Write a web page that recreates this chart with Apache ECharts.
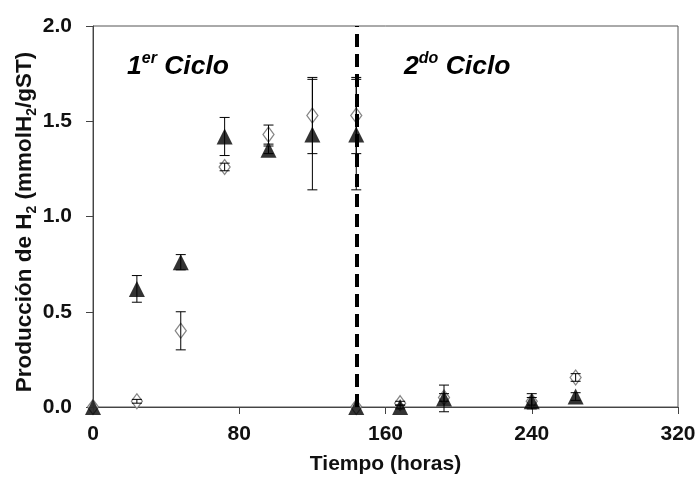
<!DOCTYPE html>
<html><head><meta charset="utf-8">
<script src="https://cdn.jsdelivr.net/npm/echarts@6/dist/echarts.min.js"></script>
<style>html,body{margin:0;padding:0;background:#fff}#c{width:699px;height:480px}</style>
</head><body><div id="c"></div>
<script>
// Data
var timeCycle1 = [0, 24, 48, 72, 96, 120, 144];
var triCycle1 = [0, 0.62, 0.76, 1.42, 1.35, 1.43, 1.43];
var triErr1 = [0, 0.07, 0.04, 0.10, 0.02, 0.29, 0.29];
var diaCycle1 = [0, 0.03, 0.40, 1.26, 1.43, 1.53, 1.53];
var diaErr1 = [0, 0.01, 0.10, 0.02, 0.05, 0.20, 0.20];

var timeCycle2 = [144, 168, 192, 240, 264];
var triCycle2 = [0, 0.00, 0.045, 0.03, 0.055];
var triErr2 = [0, 0.01, 0.07, 0.04, 0.02];
var diaCycle2 = [0, 0.02, 0.05, 0.03, 0.155];
var diaErr2 = [0, 0.01, 0.02, 0.02, 0.02];

var divisionTime = 144;
var xTicks = [0, 80, 160, 240, 320];
var yTicks = [0, 0.5, 1.0, 1.5, 2.0];

function pts(t, v) { return t.map(function (x, i) { return [x, v[i]]; }); }
function errs(t, v, e) { return t.map(function (x, i) { return [x, v[i] - e[i], v[i] + e[i]]; }); }

var triPts = pts(timeCycle1, triCycle1).concat(pts(timeCycle2, triCycle2));
var diaPts = pts(timeCycle1, diaCycle1).concat(pts(timeCycle2, diaCycle2));
var errPts = errs(timeCycle1, diaCycle1, diaErr1).concat(errs(timeCycle2, diaCycle2, diaErr2))
  .concat(errs(timeCycle1, triCycle1, triErr1)).concat(errs(timeCycle2, triCycle2, triErr2))
  .filter(function (d) { return d[2] - d[1] > 0.015; });

var FONT = "'Liberation Sans', Arial, sans-serif";
var chart = echarts.init(document.getElementById('c'));

function renderErr(params, api) {
  var x = api.value(0);
  var lo = api.coord([x, api.value(1)]);
  var hi = api.coord([x, api.value(2)]);
  var w = 5;
  var st = { stroke: '#000', lineWidth: 1 };
  return {
    type: 'group',
    children: [
      { type: 'line', shape: { x1: lo[0], y1: lo[1], x2: hi[0], y2: hi[1] }, style: st },
      { type: 'line', shape: { x1: lo[0] - w, y1: lo[1], x2: lo[0] + w, y2: lo[1] }, style: st },
      { type: 'line', shape: { x1: hi[0] - w, y1: hi[1], x2: hi[0] + w, y2: hi[1] }, style: st }
    ]
  };
}

chart.setOption({
  animation: false,
  grid: { left: 93, right: 21, top: 26, bottom: 73, show: true, borderColor: '#555', borderWidth: 1 },
  xAxis: {
    type: 'value', min: xTicks[0], max: xTicks[xTicks.length - 1], interval: 80,
    name: 'Tiempo (horas)', nameLocation: 'middle', nameGap: 47,
    nameTextStyle: { fontFamily: FONT, fontWeight: 'bold', fontSize: 21, color: '#111' },
    axisLine: { lineStyle: { color: '#444', width: 1 } },
    axisTick: { show: true, inside: false, length: 7, lineStyle: { color: '#444' } },
    axisLabel: { fontFamily: FONT, fontWeight: 'bold', fontSize: 21, color: '#111', margin: 17 },
    splitLine: { show: false }
  },
  yAxis: {
    type: 'value', min: yTicks[0], max: yTicks[yTicks.length - 1], interval: 0.5,
    axisLine: { show: true, lineStyle: { color: '#444', width: 1 } },
    axisTick: { show: true, inside: false, length: 7, lineStyle: { color: '#444' } },
    axisLabel: { fontFamily: FONT, fontWeight: 'bold', fontSize: 21, color: '#111', margin: 21,
      formatter: function (v) { return v.toFixed(1); } },
    splitLine: { show: false }
  },
  graphic: [
    { type: 'text', x: 25, y: 222, rotation: Math.PI / 2,
      style: { text: 'Producción de H{s|2} (mmolH{s|2}/gST)', align: 'center', verticalAlign: 'middle',
        fontFamily: FONT, fontWeight: 'bold', fontSize: 22.5, fill: '#111', lineHeight: 28,
        rich: { s: { fontFamily: FONT, fontWeight: 'bold', fontSize: 14, lineHeight: 28, verticalAlign: 'bottom', fill: '#111' } } } },
    { type: 'text', left: 127, top: 51,
      style: { text: '1{s|er} Ciclo', fontFamily: FONT, fontWeight: 'bold', fontStyle: 'italic', fontSize: 26.5, fill: '#000', lineHeight: 31,
        rich: { s: { fontFamily: FONT, fontWeight: 'bold', fontStyle: 'italic', fontSize: 16, lineHeight: 31, verticalAlign: 'top', fill: '#000' } } } },
    { type: 'text', left: 404, top: 51,
      style: { text: '2{s|do} Ciclo', fontFamily: FONT, fontWeight: 'bold', fontStyle: 'italic', fontSize: 26.5, fill: '#000', lineHeight: 31,
        rich: { s: { fontFamily: FONT, fontWeight: 'bold', fontStyle: 'italic', fontSize: 16, lineHeight: 31, verticalAlign: 'top', fill: '#000' } } } }
  ],
  series: [
    { type: 'line', data: [], z: 1, silent: true,
      markLine: { symbol: 'none', silent: true, label: { show: false },
        lineStyle: { color: '#000', width: 4, type: [13, 7] },
        data: [{ xAxis: divisionTime }] } },
    { type: 'scatter', data: diaPts, symbol: 'diamond', symbolSize: [11, 15], z: 3,
      itemStyle: { color: '#fff', borderColor: '#666', borderWidth: 1.3 } },
    { type: 'scatter', data: triPts, symbol: 'triangle', symbolSize: [16, 16], z: 4,
      itemStyle: { color: '#000' } },
    { type: 'custom', data: errPts, renderItem: renderErr, z: 5, encode: { x: 0, y: [1, 2] } }
  ]
});
</script></body></html>
